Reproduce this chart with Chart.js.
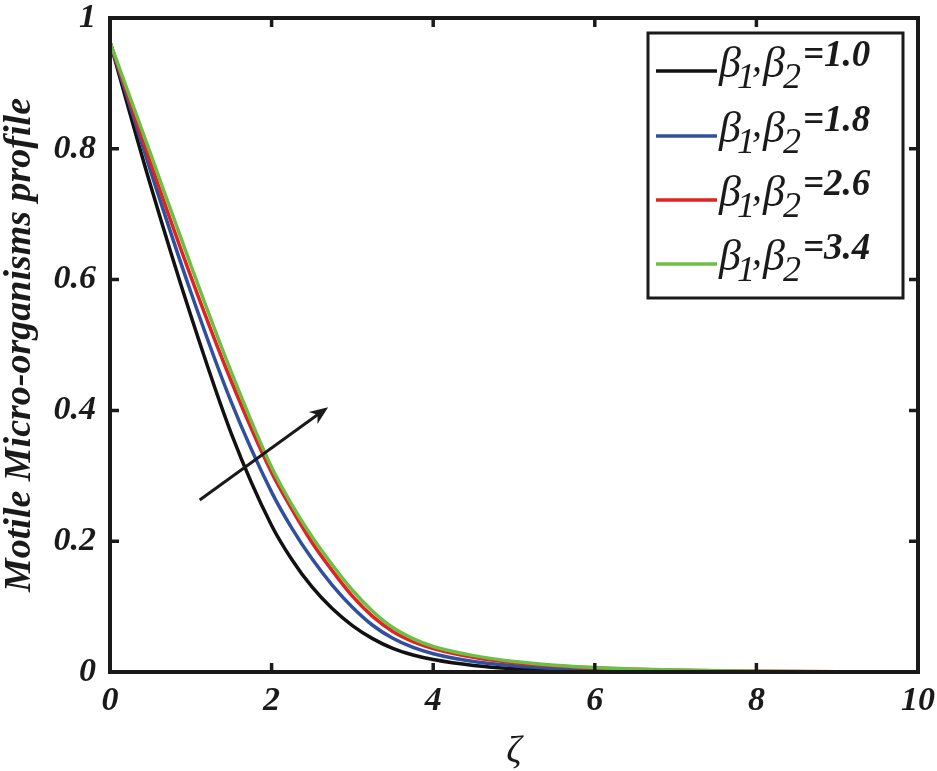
<!DOCTYPE html>
<html>
<head>
<meta charset="utf-8">
<script src="https://cdn.jsdelivr.net/npm/chart.js@4/dist/chart.umd.min.js"></script>
<style>
    html, body { margin: 0; padding: 0; background: #fff; }
    #wrap { width: 937px; height: 771px; }
</style>
</head>
<body>
<div id="wrap"><canvas id="profileChart" width="937" height="771"></canvas></div>
<script>
(function() {
    'use strict';

    // ===================================
    // Data
    // ===================================
    const zeta = [0, 0.5, 1, 1.5, 2, 2.25, 2.5, 2.75, 3, 3.25, 3.5, 3.75, 4, 4.5, 5, 5.5, 6, 7, 8, 9, 10];

    const beta10 = [0.963, 0.745, 0.545, 0.365, 0.224, 0.172, 0.130, 0.097, 0.071, 0.051, 0.036, 0.026, 0.019, 0.010, 0.005, 0.0025, 0.0012, 0.0003, 0.0001, 0, 0];
    const beta18 = [0.963, 0.767, 0.581, 0.413, 0.275, 0.220, 0.173, 0.133, 0.099, 0.0715, 0.0515, 0.0375, 0.028, 0.016, 0.0095, 0.0055, 0.003, 0.001, 0.0003, 0.0001, 0];
    const beta26 = [0.963, 0.779, 0.605, 0.445, 0.305, 0.249, 0.198, 0.155, 0.116, 0.085, 0.062, 0.0465, 0.036, 0.0225, 0.0142, 0.0092, 0.006, 0.0025, 0.001, 0.0003, 0.0001];
    const beta34 = [0.963, 0.793, 0.622, 0.459, 0.313, 0.256, 0.207, 0.164, 0.125, 0.093, 0.068, 0.051, 0.039, 0.025, 0.016, 0.0105, 0.007, 0.003, 0.0012, 0.0004, 0.0001];

    const seriesValues = ['1.0', '1.8', '2.6', '3.4'];
    const seriesColors = ['#111111', '#2f4f9f', '#e3211f', '#6cbf45'];

    const xTicks = [0, 2, 4, 6, 8, 10];
    const yTicks = [0, 0.2, 0.4, 0.6, 0.8, 1];

    // arrow annotation, in data units (tail -> head)
    const arrowFrom = { x: 1.11, y: 0.263 };
    const arrowTo = { x: 2.70, y: 0.405 };

    const SERIF = '"Liberation Serif", "Times New Roman", serif';

    function toPoints(values) {
        return values.map((v, i) => ({ x: zeta[i], y: v }));
    }

    // ===================================
    // Frame, inward ticks, arrow, legend
    // ===================================
    const decorPlugin = {
        id: 'decor',
        afterDatasetsDraw(chart) {
            const ctx = chart.ctx;
            const area = chart.chartArea;
            const xs = chart.scales.x;
            const ys = chart.scales.y;

            ctx.save();
            ctx.strokeStyle = '#1a1a1a';

            // inward ticks on all four sides
            ctx.lineWidth = 3.5;
            ctx.beginPath();
            xTicks.slice(1, -1).forEach(t => {
                const px = xs.getPixelForValue(t);
                ctx.moveTo(px, area.bottom);
                ctx.lineTo(px, area.bottom - 9);
                ctx.moveTo(px, area.top);
                ctx.lineTo(px, area.top + 9);
            });
            yTicks.slice(1, -1).forEach(t => {
                const py = ys.getPixelForValue(t);
                ctx.moveTo(area.left, py);
                ctx.lineTo(area.left + 9, py);
                ctx.moveTo(area.right, py);
                ctx.lineTo(area.right - 9, py);
            });
            ctx.stroke();

            // frame
            ctx.lineWidth = 4;
            ctx.strokeRect(area.left, area.top, area.right - area.left, area.bottom - area.top);

            // arrow
            const ax0 = xs.getPixelForValue(arrowFrom.x);
            const ay0 = ys.getPixelForValue(arrowFrom.y);
            const ax1 = xs.getPixelForValue(arrowTo.x);
            const ay1 = ys.getPixelForValue(arrowTo.y);
            const ang = Math.atan2(ay1 - ay0, ax1 - ax0);
            ctx.lineWidth = 3;
            ctx.beginPath();
            ctx.moveTo(ax0, ay0);
            ctx.lineTo(ax1 - 8 * Math.cos(ang), ay1 - 8 * Math.sin(ang));
            ctx.stroke();
            ctx.fillStyle = '#1a1a1a';
            ctx.beginPath();
            ctx.moveTo(ax1, ay1);
            ctx.lineTo(ax1 - 20 * Math.cos(ang - 0.38), ay1 - 20 * Math.sin(ang - 0.38));
            ctx.lineTo(ax1 - 13 * Math.cos(ang), ay1 - 13 * Math.sin(ang));
            ctx.lineTo(ax1 - 20 * Math.cos(ang + 0.38), ay1 - 20 * Math.sin(ang + 0.38));
            ctx.closePath();
            ctx.fill();

            // legend box
            const lx = 648, ly = 33, lw = 255, lh = 265;
            ctx.fillStyle = '#fff';
            ctx.fillRect(lx, ly, lw, lh);
            ctx.lineWidth = 3;
            ctx.strokeRect(lx, ly, lw, lh);

            const rowY = [71, 136, 200, 264];
            ctx.textBaseline = 'alphabetic';
            ctx.textAlign = 'left';
            seriesValues.forEach((val, i) => {
                const yc = rowY[i];
                ctx.strokeStyle = seriesColors[i];
                ctx.lineWidth = 3.5;
                ctx.beginPath();
                ctx.moveTo(656, yc);
                ctx.lineTo(717, yc);
                ctx.stroke();

                ctx.fillStyle = '#1a1a1a';
                ctx.font = 'italic 44px ' + SERIF;
                ctx.fillText('\u03b2', 719, yc + 6);
                ctx.font = 'italic 36px ' + SERIF;
                ctx.fillText('1', 737, yc + 17);
                ctx.font = 'italic 40px ' + SERIF;
                ctx.fillText(',', 752, yc);
                ctx.font = 'italic 44px ' + SERIF;
                ctx.fillText('\u03b2', 763, yc + 6);
                ctx.font = 'italic 36px ' + SERIF;
                ctx.fillText('2', 783, yc + 17);
                ctx.font = 'bold italic 37px ' + SERIF;
                ctx.fillText('=' + val, 803, yc - 5);
            });
            ctx.restore();
        }
    };

    // ===================================
    // Chart
    // ===================================
    const canvas = document.getElementById('profileChart');
    const values = [beta10, beta18, beta26, beta34];

    new Chart(canvas, {
        type: 'line',
        data: {
            datasets: values.map((vals, i) => ({
                label: '\u03b21, \u03b22=' + seriesValues[i],
                data: toPoints(vals),
                borderColor: seriesColors[i],
                borderWidth: 3.5,
                pointRadius: 0,
                fill: false,
                cubicInterpolationMode: 'monotone',
                order: 4 - i
            }))
        },
        options: {
            responsive: false,
            animation: false,
            events: [],
            layout: { padding: { top: 18, right: 19, left: 0, bottom: 0 } },
            plugins: {
                legend: { display: false },
                tooltip: { enabled: false }
            },
            scales: {
                x: {
                    type: 'linear',
                    min: 0,
                    max: 10,
                    afterBuildTicks: scale => { scale.ticks = xTicks.map(v => ({ value: v })); },
                    afterFit: scale => {
                        scale.height = 99;
                        scale.paddingLeft = 0;
                        scale.paddingRight = 0;
                    },
                    grid: { display: false, drawTicks: false },
                    border: { display: false },
                    ticks: {
                        color: '#1a1a1a',
                        padding: 12,
                        maxRotation: 0,
                        callback: v => String(v),
                        font: { family: SERIF, size: 34, style: 'italic', weight: 'bold', lineHeight: 1 }
                    },
                    title: {
                        display: true,
                        text: '\u03b6',
                        color: '#1a1a1a',
                        padding: { top: 0, bottom: 0 },
                        font: { family: SERIF, size: 38, style: 'italic', lineHeight: 1 }
                    }
                },
                y: {
                    min: 0,
                    max: 1,
                    afterBuildTicks: scale => { scale.ticks = yTicks.map(v => ({ value: v })); },
                    afterFit: scale => {
                        scale.width = 110;
                        scale.paddingTop = 0;
                        scale.paddingBottom = 0;
                    },
                    grid: { display: false, drawTicks: false },
                    border: { display: false },
                    ticks: {
                        color: '#1a1a1a',
                        padding: 14,
                        callback: v => String(v),
                        font: { family: SERIF, size: 34, style: 'italic', weight: 'bold', lineHeight: 1 }
                    },
                    title: {
                        display: true,
                        text: 'Motile Micro-organisms profile',
                        color: '#1a1a1a',
                        padding: { top: 1, bottom: 0 },
                        font: { family: SERIF, size: 38, style: 'italic', weight: 'bold', lineHeight: 1 }
                    }
                }
            }
        },
        plugins: [decorPlugin]
    });

})();
</script>
</body>
</html>
